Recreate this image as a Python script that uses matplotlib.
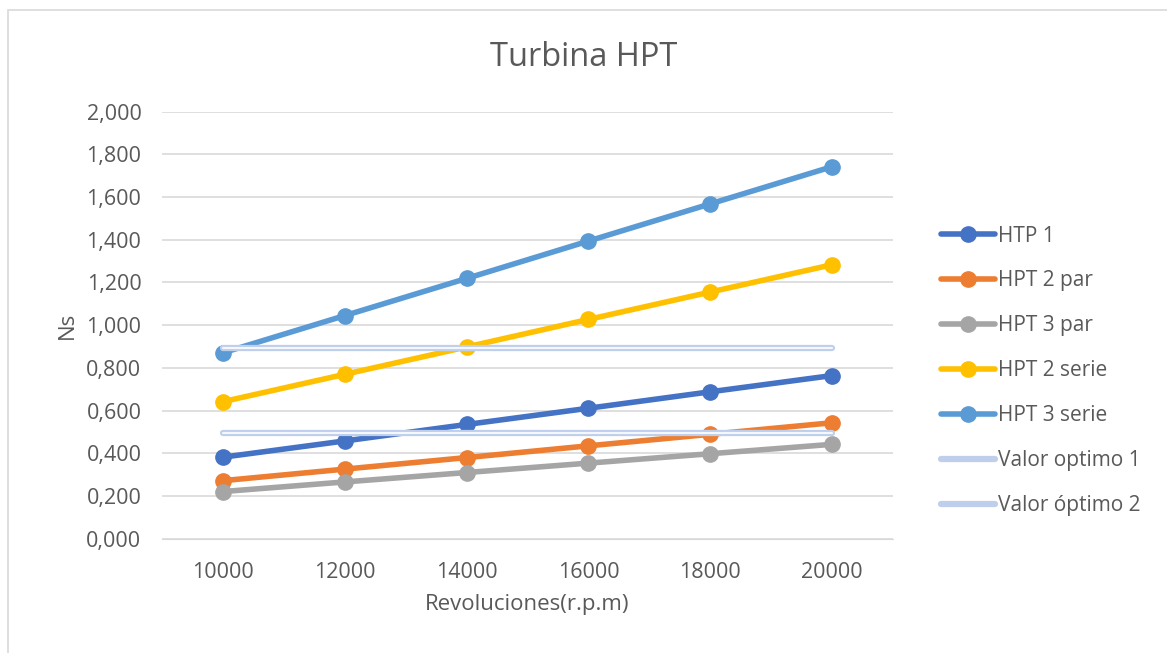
import matplotlib
matplotlib.use("Agg")
import matplotlib.pyplot as plt
from matplotlib.patches import Rectangle
from matplotlib.ticker import FuncFormatter

plt.rcParams['font.family'] = ['Open Sans', 'DejaVu Sans']

rpm = ['10000', '12000', '14000', '16000', '18000', '20000']
htp_1 = [0.382, 0.458, 0.535, 0.611, 0.688, 0.764]
hpt_2_par = [0.272, 0.326, 0.380, 0.435, 0.489, 0.543]
hpt_3_par = [0.221, 0.266, 0.310, 0.354, 0.398, 0.442]
hpt_2_serie = [0.642, 0.770, 0.898, 1.027, 1.155, 1.283]
hpt_3_serie = [0.871, 1.045, 1.219, 1.394, 1.568, 1.742]
optimo_1 = [0.895] * 6
optimo_2 = [0.497] * 6

series = [
    ('HTP 1', htp_1, '#4472c4'),
    ('HPT 2 par', hpt_2_par, '#ed7d31'),
    ('HPT 3 par', hpt_3_par, '#a5a5a5'),
    ('HPT 2 serie', hpt_2_serie, '#ffc000'),
    ('HPT 3 serie', hpt_3_serie, '#5b9bd5'),
]
text_col = '#595959'

fig = plt.figure(figsize=(11.67, 6.53), dpi=100)
fig.patches.append(Rectangle((8 / 1167, -0.02), 1.05, 1 - 10 / 653 + 0.02,
                             transform=fig.transFigure, fill=False,
                             edgecolor='#d9d9d9', linewidth=1.2))
ax = fig.add_axes([0.139, 0.175, 0.626, 0.654])

x = range(len(rpm))
for name, vals, col in series:
    ax.plot(x, vals, color=col, linewidth=4, marker='o', markersize=11,
            solid_capstyle='round', label=name, zorder=3)

# optimum reference lines, drawn as a soft light-blue band
for name, vals in [('Valor optimo 1', optimo_1), ('Valor óptimo 2', optimo_2)]:
    ax.plot(x, vals, color='#bfcfeb', linewidth=4.5, solid_capstyle='round',
            label=name, zorder=4)
    ax.plot(x, vals, color='#f4f7fc', linewidth=1.5, solid_capstyle='round',
            zorder=5)

ax.set_xlim(-0.5, len(rpm) - 0.5)
ax.set_ylim(0, 2.0)
ax.set_yticks([i * 0.2 for i in range(11)])
ax.yaxis.set_major_formatter(FuncFormatter(lambda v, p: f'{v:,.3f}'.replace('.', ',')))
ax.set_xticks(list(x))
ax.set_xticklabels(rpm)
ax.grid(axis='y', color='#d9d9d9', linewidth=1.2)
ax.set_axisbelow(True)
for s in ['top', 'right', 'left']:
    ax.spines[s].set_visible(False)
ax.spines['bottom'].set_color('#d9d9d9')
ax.tick_params(length=0, labelsize=15.5, colors=text_col)
ax.tick_params(axis='x', pad=17)
ax.tick_params(axis='y', pad=15)

ax.set_xlabel('Revoluciones(r.p.m)', fontsize=16, color=text_col, labelpad=8)
ax.set_ylabel('Ns', fontsize=16, color=text_col, labelpad=6)
fig.text(0.5, 0.912, 'Turbina HPT', ha='center', va='center', fontsize=23.5,
         color=text_col)

ax.legend(loc='center left', bbox_to_anchor=(1.04, 0.393), frameon=False,
          fontsize=15, labelcolor=text_col, handlelength=2.6, handletextpad=0.15,
          labelspacing=1.15)

fig.savefig('out.png', dpi=100)
